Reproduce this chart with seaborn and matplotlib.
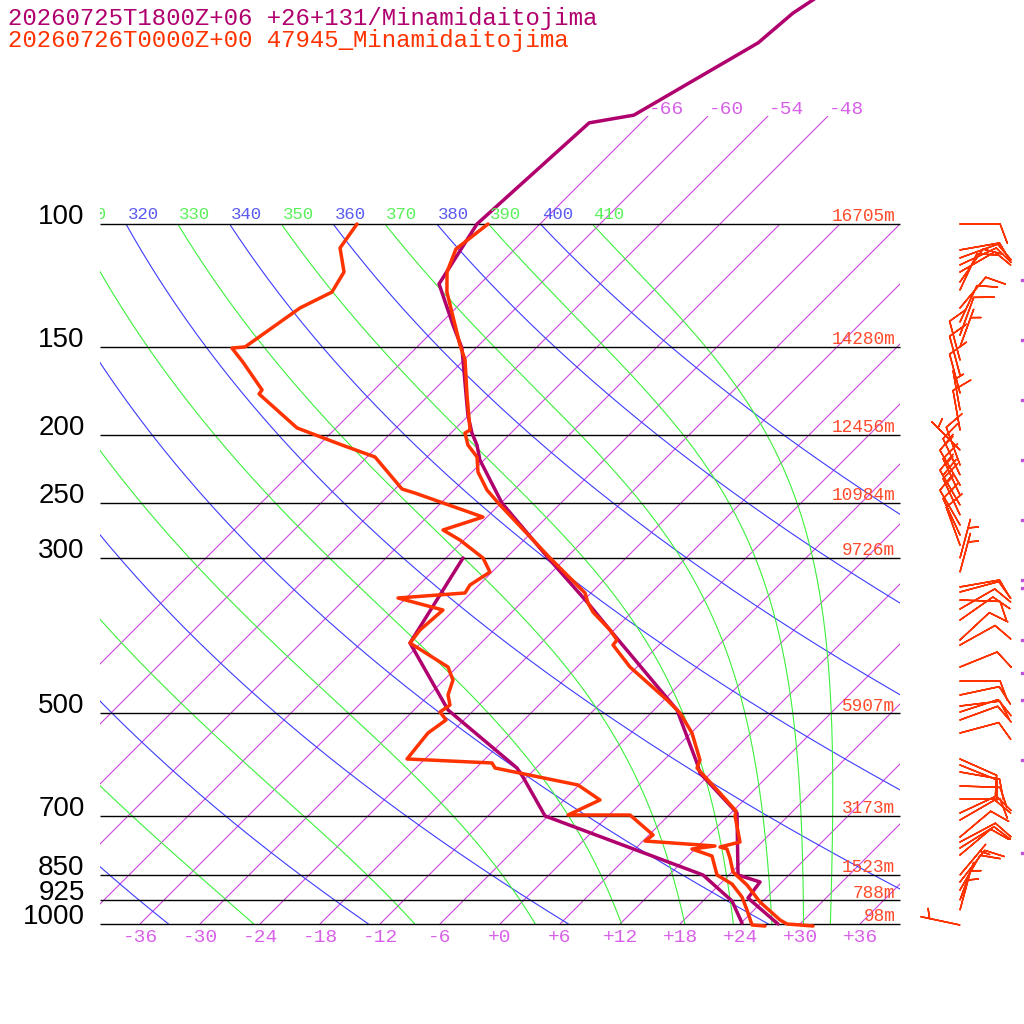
import numpy as np
import pandas as pd
import matplotlib
matplotlib.use("Agg")
import matplotlib.pyplot as plt
import seaborn as sns
from matplotlib.patches import Rectangle
from matplotlib.transforms import Bbox, TransformedBbox

# ---------------------------------------------------------------
# Data
# ---------------------------------------------------------------
fc_label  = "20260725T1800Z+06 +26+131/Minamidaitojima"
obs_label = "20260726T0000Z+00 47945_Minamidaitojima"

std_p   = [100, 150, 200, 250, 300, 500, 700, 850, 925, 1000]
std_hgt = ["16705m", "14280m", "12456m", "10984m", "9726m",
           "5907m", "3173m", "1523m", "788m", "98m"]

t_ticks     = [-36, -30, -24, -18, -12, -6, 0, 6, 12, 18, 24, 30, 36]
iso_t       = [-66, -60, -54, -48, -42, -36, -30, -24, -18, -12, -6,
               0, 6, 12, 18, 24, 30, 36]
iso_top     = [-66, -60, -54, -48]          # isotherms carried up to 70 hPa
dry_theta   = [240, 260, 280, 300, 320, 340, 360, 380, 400]
moist_theta = [250, 270, 290, 310, 330, 350, 370, 390, 410]

# forecast (model) profile
fc_t_p = [46.3, 47.8, 50.0, 55.1, 69.9, 71.7, 100.0, 121.8, 139.4, 150.4,
          187.5, 198.9, 206.9, 217.4, 250.4, 302.0, 346.7, 380.2, 494.6,
          588.9, 608.6, 694.1, 851.1, 870.9, 918.0, 1000.0]
fc_t   = [-60.6, -61.1, -61.8, -62.3, -67.5, -71.2, -72.3, -70.1, -64.6, -61.4,
          -54.1, -51.9, -50.2, -48.4, -41.9, -31.4, -23.5, -18.4, -3.7,
          3.6, 4.9, 12.6, 18.9, 21.8, 22.2, 27.8]
fc_td_p = [996.7, 927.1, 851.1, 700.9, 616.6, 598.6, 494.6, 396.8, 300.0]
fc_td   = [24.1, 20.9, 15.4, -6.3, -12.4, -13.9, -26.6, -37.1, -40.3]

# observed sounding
obs_t_p = [100.0, 108.6, 117.1, 125.1, 148.9, 156.4, 175.5, 196.9, 198.9, 206.9,
           215.2, 226.1, 239.9, 252.0, 300.0, 336.6, 347.9, 358.4, 380.2, 392.9,
           399.4, 429.4, 478.6, 499.5, 533.5, 583.1, 598.6, 650.0, 689.5, 700.9,
           763.6, 776.3, 781.4, 804.9, 842.7, 879.6, 930.2, 986.9, 1000.0, 1006.6]
obs_t   = [-71.2, -71.9, -70.5, -68.5, -61.9, -59.9, -56.2, -52.4, -52.6, -51.1,
           -49.0, -47.4, -44.7, -41.9, -31.6, -24.6, -23.3, -21.9, -18.4, -16.7,
           -16.6, -12.7, -5.7, -3.1, 0.1, 3.6, 4.1, 8.9, 12.3, 12.7,
           15.8, 14.3, 15.2, 16.4, 18.1, 20.8, 23.8, 27.6, 28.7, 31.5]
obs_td_p = [100.0, 108.2, 117.1, 125.1, 131.8, 149.8, 150.4, 157.5, 172.6, 174.9,
            195.6, 206.9, 215.2, 239.1, 242.3, 262.2, 273.6, 282.8, 300.0, 314.2,
            327.9, 336.6, 342.2, 356.0, 380.2, 396.8, 429.4, 448.2, 470.8, 486.6,
            497.9, 511.1, 533.5, 581.1, 588.8, 598.6, 633.0, 665.0, 698.7, 698.7,
            746.1, 761.1, 773.7, 781.4, 799.6, 851.1, 876.7, 915.0, 955.0, 1003.3,
            1006.6]
obs_td   = [-84.3, -83.6, -80.8, -80.0, -81.6, -83.2, -84.4, -81.9, -77.2, -77.1,
            -69.9, -63.7, -59.2, -53.3, -51.6, -42.4, -45.1, -42.4, -38.3, -36.2,
            -36.9, -36.6, -42.8, -37.1, -37.4, -37.1, -30.9, -29.1, -28.1, -26.9,
            -27.2, -25.8, -26.3, -25.8, -16.9, -16.1, -6.1, -2.4, -4.1, 2.1,
            6.4, 6.2, 13.7, 11.7, 14.4, 16.8, 19.2, 21.5, 23.3, 25.3,
            26.7]

# observed winds (direction from, knots)
wind_p   = [100.0, 108.9, 111.8, 114.4, 117.1, 121.0, 124.2, 131.8, 138.0, 144.1,
            149.8, 156.4, 164.3, 174.3, 184.4, 196.9, 210.3, 220.9, 228.3, 236.0,
            243.9, 252.0, 260.4, 269.1, 278.1, 287.5, 300.0, 314.2, 330.0, 335.5,
            344.5, 354.8, 367.9, 392.9, 399.4, 429.4, 449.7, 470.8, 488.2, 497.9,
            511.1, 533.5, 581.1, 592.7, 606.5, 635.1, 662.8, 694.1, 710.3, 751.1,
            763.6, 778.8, 796.9, 851.1, 870.9, 894.2, 924.1, 955.0, 1003.3]
wind_dir = [90, 80, 70, 65, 60, 35, 25, 40, 25, 20,
            20, 345, 345, 345, 350, 350, 315, 340, 335, 330,
            335, 330, 335, 330, 335, 340, 15, 15, 80, 75,
            92, 60, 55, 47, 61, 68, 90, 78, 83, 72,
            70, 75, 114, 112, 100, 92, 90, 65, 60, 50,
            62, 58, 50, 40, 38, 30, 20, 15, 282]
wind_kt  = [10, 10, 10, 10, 10, 10, 10, 10, 10, 10,
            5, 10, 10, 10, 5, 10, 5, 10, 15, 10,
            15, 20, 15, 10, 10, 10, 5, 5, 10, 10,
            10, 10, 10, 10, 10, 10, 10, 10, 10, 10,
            10, 10, 10, 10, 10, 10, 10, 10, 10, 10,
            10, 10, 10, 5, 10, 10, 5, 5, 5]

# forecast wind levels (barbs lie just off the right edge)
fc_wind_p = [120.2, 146.5, 178.4, 217.4, 264.8, 322.5, 331.1, 392.9, 437.9,
             478.6, 583.1, 791.7]

# ---------------------------------------------------------------
# Styling
# ---------------------------------------------------------------
FC_COL   = "#b0006e"
OBS_COL  = "#ff3300"
ISO_COL  = "#cc44dd"
ISO_TXT  = "#d860e8"
DRY_COL  = "#3c3cff"
DRY_TXT  = "#5a5af0"
WET_COL  = "#3cf03c"
WET_TXT  = "#5af05a"
HGT_COL  = "#ff4a2a"

SKEW   = 70 / np.log(10)          # deg per ln(p) -> 45 deg isotherms
PX_LN  = 700 / np.log(10)         # pixels per ln(p)
KAPPA  = 0.2857
X_L, X_R = -40, 40

sns.set_style("white")
plt.rcParams["font.family"] = ["Liberation Mono", "DejaVu Sans Mono"]


def skew_x(t, p):
    return np.asarray(t, dtype=float) + SKEW * np.log(1000.0 / np.asarray(p, dtype=float))


def dtdp(T, p):
    tc = T - 273.15
    es = 6.112 * np.exp(17.67 * tc / (tc + 243.5))
    rs = 0.622 * es / (p - es)
    num = 287.04 * T + 2.501e6 * rs
    den = p * (1005.7 + 2.501e6 ** 2 * rs * 0.622 / (287.04 * T * T))
    return num / den


def moist_profile(theta, pg):
    T = theta * (pg[0] / 1000.0) ** KAPPA
    out = [T]
    for p0, p1 in zip(pg[:-1], pg[1:]):
        h = p1 - p0
        k1 = dtdp(T, p0)
        k2 = dtdp(T + h / 2 * k1, p0 + h / 2)
        k3 = dtdp(T + h / 2 * k2, p0 + h / 2)
        k4 = dtdp(T + h * k3, p1)
        T = T + h / 6 * (k1 + 2 * k2 + 2 * k3 + k4)
        out.append(T)
    return np.array(out) - 273.15


fig = plt.figure(figsize=(10.24, 10.24), dpi=100)
ax = fig.add_axes([0, 0, 1, 1])
ax.set_yscale("log")
ax.set_xlim(-50, 52.4)
ax.set_ylim(1000 * np.exp(100 / PX_LN), 1000 * np.exp(-924 / PX_LN))
ax.axis("off")

box100 = Rectangle((X_L, 100), X_R - X_L, 900, transform=ax.transData)
box70  = Rectangle((X_L, 70), X_R - X_L, 930, transform=ax.transData)
# theta labels are cut at the left edge of the diagram
txt_clip = TransformedBbox(Bbox.from_extents(100 / 1024, 0, 1, 1), fig.transFigure)


def theta_label(th, x, col):
    # only labels that at least partly reach into the diagram
    if x < X_L - 3.2:
        return
    lab = ax.annotate(f"{th}", xy=(x, 100), xytext=(1, 3.5),
                      textcoords="offset points", ha="left", va="baseline",
                      color=col, fontsize=12.5)
    lab.set_clip_box(txt_clip)
    lab.set_clip_on(True)


# isotherms
for t in iso_t:
    top = 70 if t in iso_top else 100
    pp = np.array([1000.0, top])
    ln, = ax.plot(skew_x([t, t], pp), pp, color=ISO_COL, lw=0.8)
    ln.set_clip_path(box70 if t in iso_top else box100)
for t in iso_top:
    ax.annotate(f"{t:d}", xy=(skew_x(t, 70), 70), xytext=(0, 1),
                textcoords="offset points", ha="left", va="baseline",
                color=ISO_TXT, fontsize=14)

# dry adiabats
pg = np.geomspace(100, 1000, 300)
for th in dry_theta:
    tt = th * (pg / 1000.0) ** KAPPA - 273.15
    ln, = ax.plot(skew_x(tt, pg), pg, color=DRY_COL, lw=0.8)
    ln.set_clip_path(box100)
    theta_label(th, float(skew_x(tt[0], 100)), DRY_TXT)

# moist adiabats
for th in moist_theta:
    tt = moist_profile(th, pg)
    ln, = ax.plot(skew_x(tt, pg), pg, color=WET_COL, lw=0.8)
    ln.set_clip_path(box100)
    theta_label(th, float(skew_x(tt[0], 100)), WET_TXT)

# isobars, pressure and height labels
ax.hlines(std_p, X_L, X_R, color="black", lw=1.0)
for p, h in zip(std_p, std_hgt):
    ax.annotate(str(p), xy=(X_L, p), xytext=(-11, 5), textcoords="offset points",
                ha="right", va="center", fontsize=20, color="black",
                family=["Liberation Sans", "DejaVu Sans"])
    ax.annotate(h, xy=(X_R, p), xytext=(-3.5, 2), textcoords="offset points",
                ha="right", va="baseline", fontsize=12.8, color=HGT_COL)

# bottom temperature ticks
for t in t_ticks:
    ax.annotate(f"{t:+d}" if t >= 0 else f"{t:d}", xy=(t, 1000), xytext=(0, -3.5),
                textcoords="offset points", ha="center", va="top",
                fontsize=14, color=ISO_TXT)

# soundings
fc_t_df  = pd.DataFrame({"x": skew_x(fc_t, fc_t_p), "p": fc_t_p})
fc_td_df = pd.DataFrame({"x": skew_x(fc_td, fc_td_p), "p": fc_td_p})
ob_t_df  = pd.DataFrame({"x": skew_x(obs_t, obs_t_p), "p": obs_t_p})
ob_td_df = pd.DataFrame({"x": skew_x(obs_td, obs_td_p), "p": obs_td_p})
for df, col in [(fc_t_df, FC_COL), (fc_td_df, FC_COL),
                (ob_t_df, OBS_COL), (ob_td_df, OBS_COL)]:
    sns.lineplot(data=df, x="x", y="p", sort=False, estimator=None,
                 color=col, lw=2.5, ax=ax)

# wind barbs
wd = np.deg2rad(wind_dir)
u = -np.array(wind_kt) * np.sin(wd)
v = -np.array(wind_kt) * np.cos(wd)
ax.barbs(np.full(len(wind_p), 46.0), wind_p, u, v, length=7.6,
         color=OBS_COL, linewidth=1.1,
         sizes=dict(height=0.48, width=0.36, spacing=0.15))
ax.plot(np.full(len(fc_wind_p), 52.2), fc_wind_p, ls="none", marker="s",
        ms=1.5, color="#c050e0")

ax.set_xlim(-50, 52.4)
ax.set_ylim(1000 * np.exp(100 / PX_LN), 1000 * np.exp(-924 / PX_LN))
ax.axis("off")

fig.text(8 / 1024, 1 - 18 / 1024, fc_label, color=FC_COL, fontsize=17.3, va="center")
fig.text(8 / 1024, 1 - 41 / 1024, obs_label, color=OBS_COL, fontsize=17.3, va="center")

fig.savefig("out.png", dpi=100)
